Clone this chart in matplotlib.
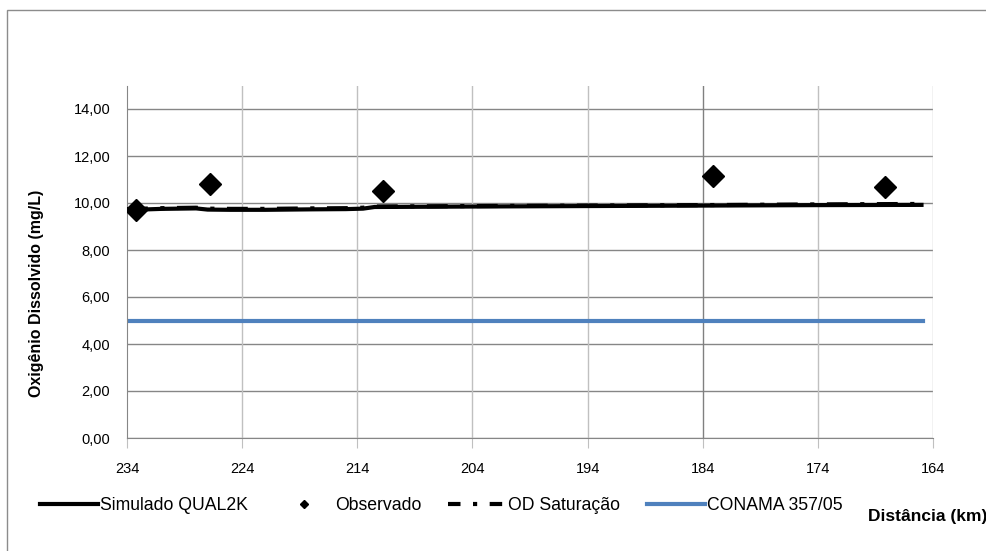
import matplotlib
matplotlib.use('Agg')
import matplotlib.pyplot as plt
from matplotlib.patches import Rectangle
from matplotlib.lines import Line2D

plt.rcParams['font.family'] = ['Liberation Sans', 'DejaVu Sans']

# distancias (km) e OD simulado / saturacao
dist_sim = [234, 231, 228, 227, 225, 222, 218, 215, 213.5, 212.5, 204, 194, 184, 174, 165]
od_sim = [9.70, 9.75, 9.77, 9.72, 9.71, 9.71, 9.73, 9.74, 9.76, 9.83, 9.85, 9.87, 9.89, 9.91, 9.92]
od_sat = [9.74, 9.78, 9.80, 9.76, 9.75, 9.75, 9.77, 9.78, 9.80, 9.85, 9.87, 9.89, 9.91, 9.94, 9.96]

# pontos observados
dist_obs = [233.2, 226.8, 211.8, 183.1, 168.2]
od_obs = [9.70, 10.81, 10.51, 11.15, 10.68]

# limite CONAMA 357/05
dist_conama = [234, 164.9]
od_conama = [5.0, 5.0]

xticks = [234, 224, 214, 204, 194, 184, 174, 164]
yticks = [0, 2, 4, 6, 8, 10, 12, 14]

fig = plt.figure(figsize=(9.87, 5.51), dpi=100)
fig.patches.append(Rectangle((7 / 987, -0.05), 1.1, 1 - 10 / 551 + 0.05,
                             transform=fig.transFigure, fill=False,
                             edgecolor='#8c8c8c', lw=1))
ax = fig.add_axes([127 / 987, 1 - 438 / 551, 806 / 987, 352.5 / 551])

ax.set_xlim(234, 164)
ax.set_ylim(0, 15)
ax.set_xticks(xticks)
ax.set_yticks(yticks)
ax.set_xticklabels([str(t) for t in xticks])
ax.set_yticklabels([('%.2f' % t).replace('.', ',') for t in yticks])

# grade
for y in yticks:
    ax.axhline(y, color='#868686', lw=1, zorder=0)
for x in xticks[1:]:
    c = '#808080' if x == 184 else '#c0c0c0'
    ax.axvline(x, color=c, lw=1, zorder=0)

for s in ['top', 'right']:
    ax.spines[s].set_visible(False)
ax.spines['left'].set_color('#868686')
ax.spines['bottom'].set_color('#868686')
ax.tick_params(axis='x', direction='out', length=7, color='#c0c0c0', pad=10, labelsize=10.5)
ax.tick_params(axis='y', length=0, pad=12, labelsize=10.5)

ax.plot(dist_sim, od_sim, color='black', lw=3, zorder=3)
ax.plot(dist_sim, od_sat, color='black', lw=3, ls=(0, (5, 3, 1, 3)), zorder=3)
ax.plot(dist_obs, od_obs, ls='none', marker='D', color='black', markersize=11, zorder=4)
ax.plot(dist_conama, od_conama, color='#4f81bd', lw=3, zorder=2)

fig.text(37 / 987, 1 - 293 / 551, 'Oxigênio Dissolvido (mg/L)', rotation=90,
         ha='center', va='center', fontsize=11.5, fontweight='bold')
fig.text(868 / 987, 1 - 516 / 551, 'Distância (km)', ha='left', va='center',
         fontsize=12.5, fontweight='bold')

handles = [
    Line2D([], [], color='black', lw=3),
    Line2D([], [], ls='none', marker='D', color='black', markersize=4),
    Line2D([], [], color='black', lw=3, ls=(0, (3, 3, 1, 3))),
    Line2D([], [], color='#4f81bd', lw=3),
]
labels = ['Simulado QUAL2K', 'Observado', 'OD Saturação', 'CONAMA 357/05']
fig.legend(handles, labels, loc='center left', bbox_to_anchor=(40 / 987, 1 - 506 / 551),
           ncol=4, frameon=False, fontsize=12.7, handlelength=3.3, handletextpad=0.12,
           columnspacing=1.5, borderpad=0, borderaxespad=0)

fig.savefig('out.png', dpi=100)
